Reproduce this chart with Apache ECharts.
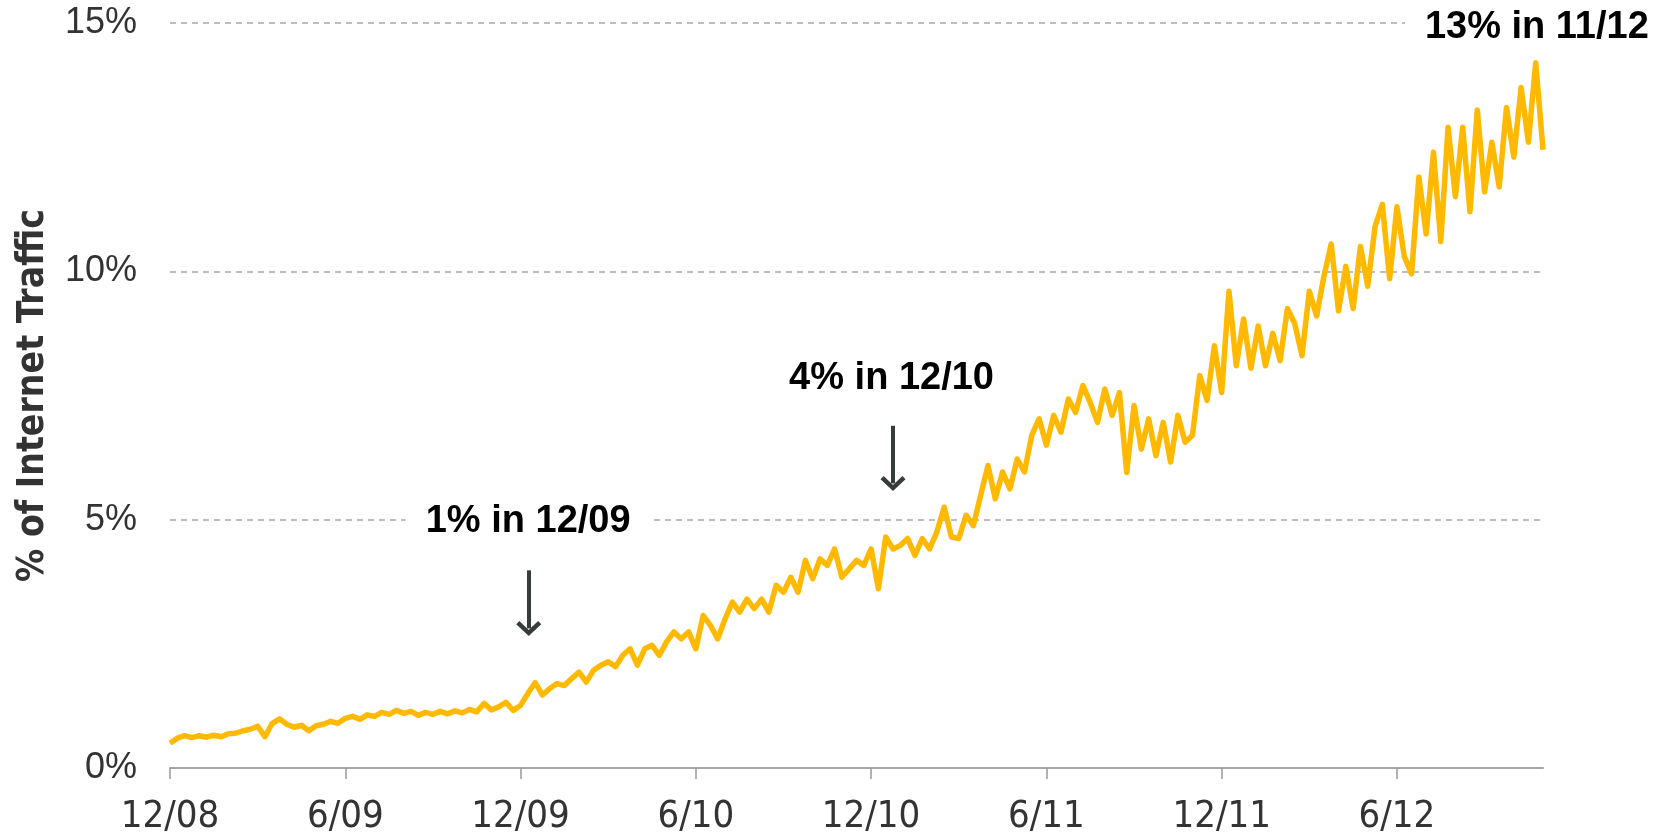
<!DOCTYPE html>
<html>
<head>
<meta charset="utf-8">
<title>% of Internet Traffic</title>
<script src="https://cdn.jsdelivr.net/npm/echarts@6/dist/echarts.min.js"></script>
<style>
	html, body { margin: 0; padding: 0; background: #fff; }
	#chartmain { width: 1669px; height: 836px; }
</style>
</head>
<body>
<div id="chartmain"></div>
<script>
// one value every quarter month, starting 12/08
var STEP = 0.25;

var seg1 = [0.50, 0.60, 0.65, 0.61, 0.65, 0.62, 0.66, 0.63, 0.69, 0.70, 0.75, 0.78, 0.84, 0.63, 0.90, 0.99, 0.88, 0.82, 0.86, 0.75, 0.85, 0.88, 0.94, 0.90];
var seg2 = [1.00, 1.04, 0.98, 1.07, 1.04, 1.12, 1.08, 1.16, 1.10, 1.14, 1.06, 1.12, 1.08, 1.14, 1.09, 1.15, 1.11, 1.18, 1.13, 1.30, 1.17, 1.23, 1.32, 1.16];
var seg3 = [1.26, 1.50, 1.72, 1.47, 1.60, 1.70, 1.66, 1.80, 1.93, 1.73, 1.97, 2.07, 2.14, 2.04, 2.27, 2.40, 2.07, 2.40, 2.47, 2.27, 2.54, 2.74, 2.60, 2.74];
var seg4 = [2.40, 3.07, 2.87, 2.60, 3.00, 3.34, 3.14, 3.40, 3.21, 3.40, 3.14, 3.68, 3.54, 3.84, 3.54, 4.18, 3.81, 4.21, 4.08, 4.41, 3.84, 4.01, 4.18, 4.08];
var seg5 = [4.41, 3.61, 4.65, 4.41, 4.48, 4.62, 4.28, 4.62, 4.41, 4.75, 5.25, 4.65, 4.62, 5.09, 4.88, 5.49, 6.09, 5.42, 5.96, 5.62, 6.22, 5.96, 6.70, 7.03];
var seg6 = [6.50, 7.10, 6.76, 7.43, 7.16, 7.70, 7.36, 6.96, 7.63, 7.10, 7.56, 5.95, 7.30, 6.42, 7.03, 6.29, 6.96, 6.16, 7.10, 6.56, 6.70, 7.90, 7.40, 8.50];
var seg7 = [7.56, 9.60, 8.10, 9.04, 8.05, 8.90, 8.10, 8.75, 8.20, 9.25, 8.95, 8.30, 9.60, 9.10, 9.90, 10.55, 9.20, 10.10, 9.25, 10.50, 9.70, 10.90, 11.35, 9.85];
var seg8 = [11.30, 10.30, 9.95, 11.90, 10.75, 12.40, 10.60, 12.90, 11.50, 12.90, 11.20, 13.25, 11.60, 12.60, 11.70, 13.30, 12.30, 13.70, 12.60, 14.20, 12.45];

var tickMonths = [0, 6, 12, 18, 24, 30, 36, 42];
var tickLabels = ['12/08', '6/09', '12/09', '6/10', '12/10', '6/11', '12/11', '6/12'];

// callouts: text, month, value
var notes = [
	['1% in 12/09', 12.26, 4.96],
	['4% in 12/10', 24.70, 7.85],
	['13% in 11/12', 46.79, 14.91]
];
// arrows: month, from value, to value
var arrows = [
	[12.28, 3.98, 2.81],
	[24.75, 6.89, 5.73]
];

var values = [].concat(seg1, seg2, seg3, seg4, seg5, seg6, seg7, seg8);
var data = values.map(function (v, i) { return [i * STEP, v]; });

var chevron = 'path://M10,0 L20,9 L17.5,11.5 L10,4.5 L2.5,11.5 L0,9 Z';

var option = {
	animation : false,
	grid : {
		left : 170,
		right : 126,
		top : 23,
		bottom : 66
	},
	xAxis : {
		type : 'value',
		min : 0,
		max : 47,
		interval : 6,
		splitLine : { show : false },
		axisLine : { lineStyle : { color : '#a6a6a6', width : 2 } },
		axisTick : {
			show : true,
			length : 11,
			customValues : tickMonths,
			lineStyle : { color : '#999', width : 1.5 }
		},
		axisLabel : {
			customValues : tickMonths,
			margin : 30,
			color : '#333',
			fontSize : 38,
			fontFamily : "'Liberation Sans Narrow', 'DejaVu Sans Condensed', sans-serif",
			formatter : function (v) {
				var k = tickMonths.indexOf(v);
				return k >= 0 ? tickLabels[k] : '';
			}
		}
	},
	yAxis : {
		type : 'value',
		min : 0,
		max : 15,
		interval : 5,
		name : '% of Internet Traffic',
		nameLocation : 'middle',
		nameRotate : 90,
		nameGap : 118,
		nameTextStyle : {
			color : '#333',
			fontSize : 37,
			fontWeight : 'bold',
			fontFamily : "'Liberation Sans Narrow', 'DejaVu Sans Condensed', sans-serif"
		},
		axisLine : { show : false },
		axisTick : { show : false },
		axisLabel : {
			margin : 33,
			color : '#333',
			fontSize : 36,
			fontFamily : "'Liberation Sans', Arial, sans-serif",
			formatter : '{value}%'
		},
		splitLine : {
			lineStyle : { color : '#a8a8a8', width : 1.5, type : [6, 5] }
		}
	},
	series : [ {
		type : 'line',
		data : data,
		showSymbol : false,
		clip : false,
		lineStyle : { color : '#ffb900', width : 5.5, join : 'round' },
		z : 3,
		markPoint : {
			silent : true,
			symbol : 'circle',
			symbolSize : 1,
			itemStyle : { color : 'rgba(0,0,0,0)' },
			label : {
				show : true,
				position : 'inside',
				formatter : '{b}',
				color : '#000',
				fontSize : 38,
				fontWeight : 'bold',
				fontFamily : "'Liberation Sans', Arial, sans-serif",
				backgroundColor : '#fff',
				padding : [4, 20]
			},
			data : notes.map(function (n) {
				return { name : n[0], coord : [n[1], n[2]] };
			})
		},
		markLine : {
			silent : true,
			symbol : ['none', chevron],
			symbolSize : [25, 15],
			label : { show : false },
			lineStyle : { color : '#363c3c', width : 4, type : 'solid' },
			data : arrows.map(function (a) {
				return [ { coord : [a[0], a[1]] }, { coord : [a[0], a[2]] } ];
			})
		}
	} ]
};

var myChart = echarts.init(document.getElementById('chartmain'));
myChart.setOption(option);
</script>
</body>
</html>
